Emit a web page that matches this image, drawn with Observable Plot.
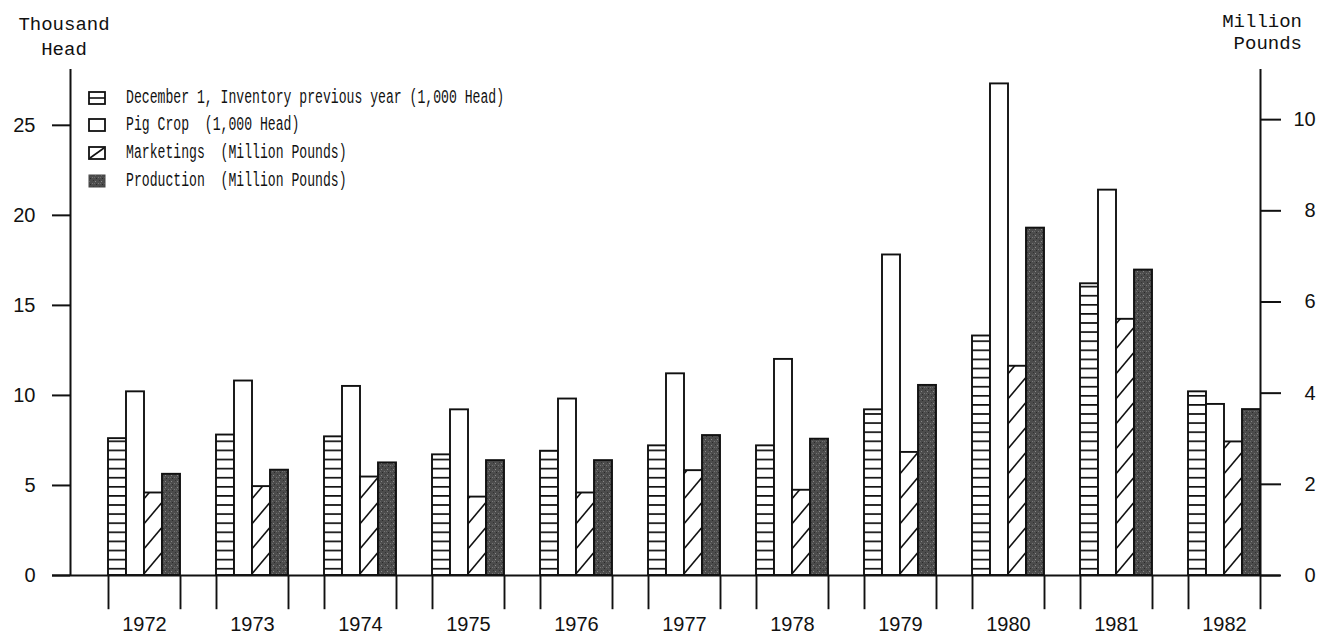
<!DOCTYPE html>
<html>
<head>
<meta charset="utf-8">
<script src="https://cdn.jsdelivr.net/npm/d3@7"></script>
<script src="https://cdn.jsdelivr.net/npm/@observablehq/plot@0.6"></script>
<style>
  html, body { margin: 0; padding: 0; background: #fff; }
  #chart { position: relative; width: 1324px; height: 635px; overflow: hidden; background: #fff; }
  #chart svg.plotlayer { position: absolute; left: 0; top: 0; }
  .ttl { position: absolute; font-family: "Liberation Mono", "DejaVu Sans Mono", monospace; font-size: 19px; color: #111; white-space: pre; }
  .legend { position: absolute; left: 0; top: 0; font-family: "Liberation Mono", "DejaVu Sans Mono", monospace; color: #111; }
  .legend .row { position: absolute; left: 86px; height: 28px; width: 460px; }
  .legend .row svg { position: absolute; left: 2px; top: 7px; }
  .legend .row span { position: absolute; left: 40px; top: 2px; font-size: 19.5px; line-height: 24px; white-space: pre; display: inline-block; transform: scaleX(0.673); transform-origin: 0 50%; }
  .axl [aria-label^="y-axis"] line, .axl [aria-label^="y-axis"] path { stroke-width: 2; }
</style>
</head>
<body>
<svg width="0" height="0" style="position:absolute">
  <defs>
    <pattern id="pat-h" patternUnits="userSpaceOnUse" width="8" height="9.1">
      <rect width="8" height="9.1" fill="#fff"/>
      <line x1="0" x2="8" y1="4.5" y2="4.5" stroke="#111" stroke-width="1.7"/>
    </pattern>
    <pattern id="pat-d" patternUnits="userSpaceOnUse" width="21" height="25">
      <rect width="21" height="25" fill="#fff"/>
      <line x1="0" y1="25" x2="21" y2="0" stroke="#111" stroke-width="1.6"/>
      <line x1="-3" y1="3.6" x2="3" y2="-3.6" stroke="#111" stroke-width="1.6"/>
      <line x1="18" y1="28.6" x2="24" y2="21.4" stroke="#111" stroke-width="1.6"/>
    </pattern>
    <pattern id="pat-s" patternUnits="userSpaceOnUse" width="6" height="6">
      <rect width="6" height="6" fill="#4c4c4c"/>
      <rect x="1" y="1" width="1" height="1" fill="#8a8a8a"/>
      <rect x="4" y="3" width="1" height="1" fill="#777"/>
      <rect x="2" y="4" width="1" height="1" fill="#2a2a2a"/>
      <rect x="5" y="0" width="1" height="1" fill="#333"/>
      <rect x="0" y="3" width="1" height="1" fill="#6a6a6a"/>
    </pattern>
  </defs>
</svg>
<div id="chart"></div>
<script>
// ---- data ----
const years = ["1972","1973","1974","1975","1976","1977","1978","1979","1980","1981","1982"];
// thousand head
const inventory = [7.6, 7.8, 7.7, 6.7, 6.9, 7.2, 7.2, 9.2, 13.3, 16.2, 10.2];
const pigCrop   = [10.2, 10.8, 10.5, 9.2, 9.8, 11.2, 12.0, 17.8, 27.3, 21.4, 9.5];
// million pounds
const marketings = [1.81, 1.95, 2.16, 1.72, 1.81, 2.30, 1.87, 2.70, 4.59, 5.62, 2.93];
const production = [2.22, 2.31, 2.47, 2.52, 2.52, 3.07, 2.99, 4.17, 7.62, 6.70, 3.64];

const seriesKeys = ["inv", "pig", "mkt", "prod"];
const seriesLabels = [
  "December 1, Inventory previous year (1,000 Head)",
  "Pig Crop  (1,000 Head)",
  "Marketings  (Million Pounds)",
  "Production  (Million Pounds)"
];
const seriesUnits = ["head", "head", "lbs", "lbs"];
const leftTicks = [0, 5, 10, 15, 20, 25];
const rightTicks = [0, 2, 4, 6, 8, 10];
const leftMax = 28.1;   // top of left axis (thousand head)
const rightMax = 11.1;  // top of right axis (million pounds)
const leftTitle = "Thousand\nHead";
const rightTitle = "Million\nPounds";

// ---- build table ----
const k = leftMax / rightMax;
const seriesValues = [inventory, pigCrop, marketings, production];
const table = [];
seriesKeys.forEach((key, i) => {
  seriesValues[i].forEach((v, j) => {
    table.push({year: years[j], key, value: v, y: seriesUnits[i] === "lbs" ? v * k : v});
  });
});
const fills = {inv: "url(#pat-h)", pig: "#fff", mkt: "url(#pat-d)", prod: "url(#pat-s)"};

const W = 1324, H = 635;
const margins = {marginTop: 69, marginBottom: 60, marginLeft: 70, marginRight: 64};
const font = {fontFamily: "'Liberation Sans', Arial, sans-serif", fontSize: "20px", color: "#111", background: "transparent", overflow: "visible"};
const chart = document.getElementById("chart");

// Layer A: grouped bars, faceted by year
const bars = Plot.plot({
  width: W, height: H, ...margins,
  style: font,
  fx: {domain: years, paddingInner: 1/3, paddingOuter: 0.161, align: 1, axis: "bottom", tickSize: 0, tickPadding: 41, label: null},
  x: {domain: seriesKeys, padding: 0, axis: null},
  y: {domain: [0, leftMax], axis: null},
  marks: [
    ...seriesKeys.map(s => Plot.barY(table.filter(d => d.key === s), {
      fx: "year", x: "key", y: "y", fill: fills[s], stroke: "#111", strokeWidth: 1.9
    })),
    Plot.ruleX(years, {fx: d => d, x: () => seriesKeys[0], y1: -0.05, y2: -1.9, dx: -9, stroke: "#111", strokeWidth: 1.9}),
    Plot.ruleX(years, {fx: d => d, x: () => seriesKeys[3], y1: -0.05, y2: -1.9, dx: 9, stroke: "#111", strokeWidth: 1.9})
  ]
});
bars.classList.add("plotlayer");
chart.appendChild(bars);

// Layer B: left axis + baseline
const axL = Plot.plot({
  width: W, height: H, ...margins,
  style: font,
  x: {domain: [0, 1], axis: null},
  y: {domain: [0, leftMax], axis: "left", ticks: leftTicks, tickSize: 18, tickPadding: 17, label: null},
  marks: [
    Plot.ruleX([0], {y1: 0, y2: leftMax, stroke: "#111", strokeWidth: 2}),
    Plot.ruleY([0], {insetLeft: -18, insetRight: -20, stroke: "#111", strokeWidth: 2})
  ]
});
axL.classList.add("plotlayer", "axl");
chart.appendChild(axL);

// Layer C: right axis (million pounds)
const axR = Plot.plot({
  width: W, height: H, ...margins,
  style: font,
  x: {domain: [0, 1], axis: null},
  y: {domain: [0, rightMax], axis: "right", ticks: rightTicks, tickSize: 20, tickPadding: 13, label: null,
      tickFormat: d => (d < 10 ? "\u2007" : "") + d},
  marks: [
    Plot.ruleX([1], {y1: 0, y2: rightMax, stroke: "#111", strokeWidth: 2})
  ]
});
axR.classList.add("plotlayer", "axl");
chart.appendChild(axR);

// Axis titles
const tl = document.createElement("div");
tl.className = "ttl";
tl.style.cssText = "left:14px;top:13px;width:100px;text-align:center;line-height:25px;";
tl.textContent = leftTitle;
chart.appendChild(tl);
const tr = document.createElement("div");
tr.className = "ttl";
tr.style.cssText = "left:1202px;top:11px;width:100px;text-align:right;line-height:22px;";
tr.textContent = rightTitle;
chart.appendChild(tr);

// Legend
const legend = document.createElement("div");
legend.className = "legend";
const rowCenters = [97.5, 125, 153, 181];
const swatch = {
  inv: '<rect x="1" y="1" width="16" height="12" fill="#fff" stroke="#111" stroke-width="1.8"/><line x1="1" x2="17" y1="7" y2="7" stroke="#111" stroke-width="1.6"/>',
  pig: '<rect x="1" y="1" width="16" height="12" fill="#fff" stroke="#111" stroke-width="1.8"/>',
  mkt: '<rect x="1" y="1" width="16" height="12" fill="#fff" stroke="#111" stroke-width="1.8"/><line x1="2" y1="12" x2="16" y2="2" stroke="#111" stroke-width="1.6"/>',
  prod: '<rect x="1" y="1" width="16" height="12" fill="url(#pat-s)" stroke="#444" stroke-width="1"/>'
};
seriesKeys.forEach((key, i) => {
  const row = document.createElement("div");
  row.className = "row";
  row.style.top = (rowCenters[i] - 14) + "px";
  row.innerHTML = '<svg width="18" height="14">' + swatch[key] + '</svg>';
  const span = document.createElement("span");
  span.textContent = seriesLabels[i];
  row.appendChild(span);
  legend.appendChild(row);
});
chart.appendChild(legend);
</script>
</body>
</html>
